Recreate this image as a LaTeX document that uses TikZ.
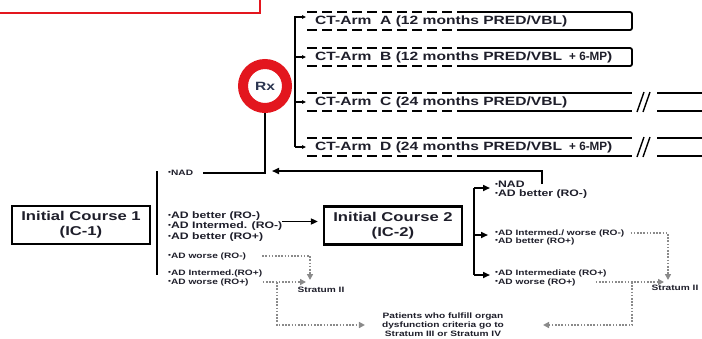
\documentclass[tikz,border=0pt]{standalone}
\usepackage{graphicx}
\usepackage{fontspec}
\setmainfont{Liberation Sans}[FakeStretch=1.3]
\usetikzlibrary{arrows.meta}
\newcommand\itemdot{\raisebox{0.12em}{\fontsize{6.5}{6.5}\selectfont\textbullet}}
\newcommand\plusmp{\hspace{7pt}\resizebox{38pt}{\height}{+ 6-MP}}

\begin{document}
\begin{tikzpicture}[x=1pt,y=-1pt,
    solidln/.style={line width=1.6pt, black},
    bracketln/.style={line width=2.2pt, black},
    armdash/.style={line width=1.8pt, dash pattern=on 10pt off 5pt},
    dotln/.style={line width=1.6pt, dotgray, dash pattern=on 1.6pt off 1.6pt},
    bigarr/.style={-{Triangle[length=7pt,width=6pt]}},
    tinyarr/.style={-{Triangle[length=4pt,width=3.5pt]}},
    grayarr/.style={-{Triangle[length=6pt,width=6pt]}},
    txt/.style={inner sep=0pt, anchor=west, align=left, text=ink},
    smalltxt/.style={txt, font=\bfseries\fontsize{7.8}{9}\selectfont},
    midtxt/.style={txt, font=\bfseries\fontsize{9.4}{10.5}\selectfont},
    armtxt/.style={txt, font=\bfseries\fontsize{12}{13}\selectfont},
    icbox/.style={draw, line width=2.2pt, minimum width=138pt, minimum height=38pt,
      align=center, inner sep=0pt, text=ink, font=\bfseries\fontsize{12.8}{15}\selectfont}]
    \definecolor{ink}{HTML}{1E1E2A}
    \definecolor{rxink}{HTML}{2B3550}
    \definecolor{rxred}{HTML}{E3161E}
    \definecolor{dotgray}{HTML}{8A8A8A}
    \useasboundingbox (0,0) rectangle (702,338);
    \clip (0,0) rectangle (702,338);

    % banner box, cut by the top edge
    \draw[rxred, line width=1.3pt] (-5,-5) rectangle (260,13);

    % randomisation and the four arms
    \node[circle, draw=rxred, line width=10pt, fill=white, minimum size=44pt, inner sep=0pt,
      outer sep=5pt, text=rxink, font=\bfseries\fontsize{12}{14}\selectfont] (rx) at (265,86) {Rx};
    \draw[bracketln] (295,16) -- (295,147);
    \foreach \ay/\yc/\lt/\what in {17/21/A/{12 months PRED/VBL}, 57/57/B/{12 months PRED/VBL\plusmp},
        102/102/C/{24 months PRED/VBL}, 147/147/D/{24 months PRED/VBL\plusmp}}{
      \node[armtxt] (arm\lt) at (315,\yc) {CT-Arm\ \ \lt\ (\what)};
      \draw[armdash] (307,\yc-9) -- (465,\yc-9) (307,\yc+9) -- (465,\yc+9);
      \draw[solidln, tinyarr, shorten >=9pt] (295,\ay) -- (arm\lt.west |- 295,\ay);
    }
    \foreach \yc in {21,57}
      \draw[solidln, line width=1.8pt, rounded corners=2pt] (465,\yc-9) -- (632,\yc-9) -- (632,\yc+9) -- (465,\yc+9);
    \foreach \yc in {102,147}{
      \draw[solidln, line width=1.8pt] (465,\yc-9) -- (632,\yc-9) (465,\yc+9) -- (632,\yc+9)
        (657,\yc-9) -- (710,\yc-9) (657,\yc+9) -- (710,\yc+9);
      \draw[solidln, line width=1.4pt] (637,\yc+10) -- (644,\yc-10) (643,\yc+10) -- (650,\yc-10);
    }

    % initial courses
    \node[icbox] (ic1) at (81,225) {Initial Course 1\\(IC-1)};
    \node[icbox] (ic2) at (393,225.5) {Initial Course 2\\(IC-2)};
    \draw[bracketln] (157,171) -- (157,275);
    \draw[bracketln] (474,188) -- (474,275);

    \node[smalltxt] (nadA) at (168,173) {\itemdot NAD};
    \node[midtxt] (betterA) at (168,226.5) {\itemdot AD better (RO-)\\\itemdot AD Intermed. (RO-)\\\itemdot AD better (RO+)};
    \node[smalltxt] (worseA) at (168,256) {\itemdot AD worse (RO-)};
    \node[smalltxt] (interA) at (168,273) {\itemdot AD Intermed.(RO+)};
    \node[smalltxt] (worseA2) at (168,282) {\itemdot AD worse (RO+)};

    \node[midtxt] (nadB) at (495,184) {\itemdot NAD};
    \node[midtxt] (betterB) at (495,194.5) {\itemdot AD better (RO-)};
    \node[smalltxt] (worseB) at (495,233) {\itemdot AD Intermed./ worse (RO-)};
    \node[smalltxt] (betterB2) at (495,241.5) {\itemdot AD better (RO+)};
    \node[smalltxt] (interB) at (495,273) {\itemdot AD Intermediate (RO+)};
    \node[smalltxt] (worseB2) at (495,282) {\itemdot AD worse (RO+)};

    \node[smalltxt, anchor=center] (stratA) at (321,289.5) {Stratum II};
    \node[smalltxt, anchor=center] (stratB) at (675,288) {Stratum II};
    \node[smalltxt, anchor=center, align=center] (fate) at (443,325)
      {Patients who fulfill organ\\dysfunction criteria go to\\Stratum III or Stratum IV};

    % solid connectors
    \coordinate (back) at (272,171);
    \draw[solidln] (rx.south) |- ([xshift=10pt]nadA.east);
    \draw[solidln, bigarr] ([xshift=17pt]nadB.east) |- (back);
    \draw[solidln, bigarr, shorten >=5pt] ([yshift=5pt]betterA.east) -- ([yshift=5pt]betterA.east -| ic2.west);
    \draw[solidln, bigarr] (474,188) -- ++(16,0);
    \draw[solidln, bigarr] (474,235) -- ++(14,0);
    \draw[solidln, bigarr] (474,275) -- ++(16,0);

    % dotted connectors to the other strata
    \coordinate (sA) at (310,280);
    \coordinate (jA) at (277,282);
    \coordinate (sB) at (668,280);
    \coordinate (jB) at (632,282);
    \draw[dotln, grayarr] ([xshift=16pt]worseA.east) -| (sA);
    \draw[dotln, grayarr, shorten >=4pt] ([xshift=14pt]worseA2.east) -- (worseA2.east -| sA);
    \draw[dotln, grayarr] (jA) |- ([xshift=-17pt]fate.west);
    \draw[dotln, grayarr] ([xshift=6pt]worseB.east) -| (sB);
    \draw[dotln, grayarr, shorten >=4pt] ([xshift=20pt]worseB2.east) -- (worseB2.east -| sB);
    \draw[dotln, grayarr] (jB) |- ([xshift=39pt]fate.east);
\end{tikzpicture}
\end{document}
